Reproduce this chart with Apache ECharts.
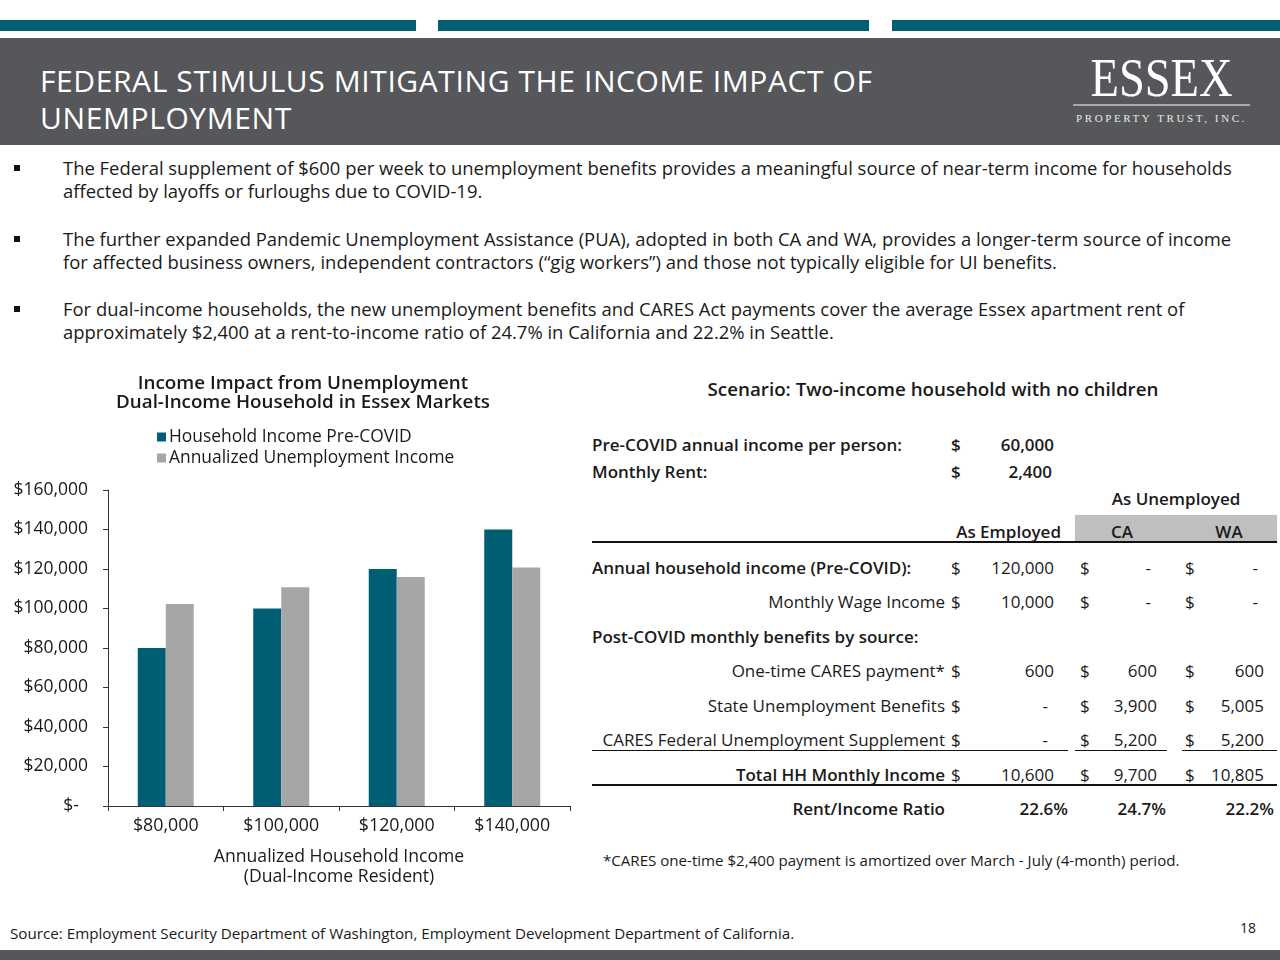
<!DOCTYPE html>
<html>
<head>
<meta charset="utf-8">
<script src="https://cdn.jsdelivr.net/npm/echarts@6/dist/echarts.min.js"></script>
<style>
  html, body { margin:0; padding:0; width:1280px; height:960px; background:#fff; overflow:hidden; }
  body { position:relative; font-family: "Open Sans", Lato, sans-serif; color:#1a1a1a; }
  .abs { position:absolute; white-space:nowrap; }
  .stripe { position:absolute; top:20px; height:11px; background:#005E73; }
  #header { position:absolute; left:0; top:38px; width:1280px; height:107px; background:#55575A; }
  .title { position:absolute; left:40px; color:#fff; font-size:30px; letter-spacing:0.6px; line-height:37px; top:24px; }
  .bullet { position:absolute; left:14px; width:6px; height:6px; background:#111; }
  .btext { position:absolute; left:63px; font-size:18.45px; line-height:23px; width:1190px; }
  .cell { position:absolute; font-size:17px; white-space:nowrap; line-height:20px; }
  .b { font-weight:600; }
</style>
</head>
<body>
<div class="stripe" style="left:0;width:416px"></div>
<div class="stripe" style="left:438px;width:431px"></div>
<div class="stripe" style="left:892px;width:388px"></div>
<div id="header">
  <div class="title">FEDERAL STIMULUS MITIGATING THE INCOME IMPACT OF<br>UNEMPLOYMENT</div>
  <div class="abs" style="left:1063px;top:13px;width:197px;text-align:center;color:#fff;font-family:'Liberation Serif',serif;font-size:54px;line-height:54px;">
    <span style="display:inline-block;transform:scaleX(0.86);">ESSEX</span></div>
  <div class="abs" style="left:1073px;top:66px;width:177px;height:2px;background:#a8a9ab;"></div>
  <div class="abs" style="left:1071px;top:74px;width:181px;text-align:center;color:#e8e8e8;font-family:'Liberation Serif',serif;font-size:11px;letter-spacing:2.6px;">PROPERTY TRUST, INC.</div>
</div>

<div id="bullets"></div>

<div id="chart" style="position:absolute;left:0;top:365px;width:580px;height:530px;"></div>

<div id="table"></div>

<div class="abs" style="left:10px;top:923px;font-size:15.2px;">Source: Employment Security Department of Washington, Employment Development Department of California.</div>
<div class="abs" style="left:1240px;top:918px;font-size:14px;">18</div>
<div class="abs" style="left:0;top:950px;width:1280px;height:10px;background:#55575A;"></div>

<script>
// ---------- data ----------
const bulletTexts = [
  "The Federal supplement of $600 per week to unemployment benefits provides a meaningful source of near-term income for households affected by layoffs or furloughs due to COVID-19.",
  "The further expanded Pandemic Unemployment Assistance (PUA), adopted in both CA and WA, provides a longer-term source of income for affected business owners, independent contractors (“gig workers”) and those not typically eligible for UI benefits.",
  "For dual-income households, the new unemployment benefits and CARES Act payments cover the average Essex apartment rent of approximately $2,400 at a rent-to-income ratio of 24.7% in California and 22.2% in Seattle."
];
const categories = ["$80,000", "$100,000", "$120,000", "$140,000"];
const preCovidIncome = [80000, 100000, 120000, 140000];
const unemploymentIncome = [102300, 110800, 115900, 120800];
const yTicks = [0, 20000, 40000, 60000, 80000, 100000, 120000, 140000, 160000];

const perPersonIncome = 60000;
const monthlyRent = 2400;
const scenarioCols = ["As Employed", "CA", "WA"];
const annualHouseholdIncome = [120000, null, null];
const monthlyWageIncome = [10000, null, null];
const caresPayment = [600, 600, 600];
const stateBenefits = [null, 3900, 5005];
const federalSupplement = [null, 5200, 5200];
const totalMonthlyIncome = [10600, 9700, 10805];
const rentIncomeRatio = [22.6, 24.7, 22.2];

// ---------- bullets ----------
const bulletTops = [156, 227, 297];
const bEl = document.getElementById('bullets');
bulletTexts.forEach((t, i) => {
  const s = document.createElement('div'); s.className = 'bullet';
  s.style.top = (bulletTops[i] + 9) + 'px'; bEl.appendChild(s);
  const d = document.createElement('div'); d.className = 'btext'; d.textContent = t;
  d.style.top = bulletTops[i] + 'px'; bEl.appendChild(d);
});

// ---------- table ----------
const tEl = document.getElementById('table');
function put(text, x, yc, align, bold, size) {
  const d = document.createElement('div'); d.className = 'cell' + (bold ? ' b' : '');
  d.textContent = text;
  if (size) d.style.fontSize = size + 'px';
  d.style.top = (yc - 10) + 'px';
  if (align === 'right') { d.style.right = (1280 - x) + 'px'; }
  else if (align === 'center') { d.style.left = (x - 300) + 'px'; d.style.width = '600px'; d.style.textAlign = 'center'; }
  else { d.style.left = x + 'px'; }
  tEl.appendChild(d); return d;
}
function rect(x, y, w, h, c) {
  const d = document.createElement('div'); d.className = 'abs';
  Object.assign(d.style, {left:x+'px', top:y+'px', width:w+'px', height:h+'px', background:c});
  tEl.appendChild(d);
}
const fmt = v => v.toLocaleString('en-US');
const colDollar = [951, 1080, 1185];
const colRight = [1054, 1157, 1264];
const colPct = [1068, 1166, 1274];
const labelRight = 945;

put("Scenario: Two-income household with no children", 933, 389, 'center', true, 18.8);
put("Pre-COVID annual income per person:", 592, 445, 'left', true);
put("$", colDollar[0], 445, 'left', true); put(fmt(perPersonIncome), colRight[0], 445, 'right', true);
put("Monthly Rent:", 592, 472, 'left', true);
put("$", colDollar[0], 472, 'left', true); put(fmt(monthlyRent), colRight[0] - 2, 472, 'right', true);
put("As Unemployed", 1176, 499, 'center', true);
rect(1075, 515, 202, 27, '#BFBFBF');
put(scenarioCols[0], 1061, 532, 'right', true);
put(scenarioCols[1], 1122, 532, 'center', true);
put(scenarioCols[2], 1229, 532, 'center', true);
rect(592, 541, 685, 2, '#111');

function valueRow(label, vals, yc, leftLabel, bold, boldVals) {
  if (leftLabel) put(label, 592, yc, 'left', bold); else put(label, labelRight, yc, 'right', bold);
  vals.forEach((v, i) => {
    put("$", colDollar[i], yc, 'left', boldVals);
    if (v === null) put("-", colRight[i] - 6, yc, 'right', boldVals);
    else put(fmt(v), colRight[i], yc, 'right', boldVals);
  });
}
valueRow("Annual household income (Pre-COVID):", annualHouseholdIncome, 568, true, true, false);
valueRow("Monthly Wage Income", monthlyWageIncome, 602, false, false, false);
put("Post-COVID monthly benefits by source:", 592, 637, 'left', true);
valueRow("One-time CARES payment*", caresPayment, 671, false, false, false);
valueRow("State Unemployment Benefits", stateBenefits, 706, false, false, false);
valueRow("CARES Federal Unemployment Supplement", federalSupplement, 740, false, false, false);
rect(592, 750, 476, 1, '#111'); rect(1075, 750, 92, 1, '#111'); rect(1182, 750, 95, 1, '#111');
valueRow("Total HH Monthly Income", totalMonthlyIncome, 775, false, true, false);
rect(592, 784, 685, 2, '#111');
put("Rent/Income Ratio", labelRight, 809, 'right', true);
rentIncomeRatio.forEach((v, i) => put(v.toFixed(1) + '%', colPct[i], 809, 'right', true));
put("*CARES one-time $2,400 payment is amortized over March - July (4-month) period.", 603, 860, 'left', false, 15.1);

// ---------- chart ----------
const chart = echarts.init(document.getElementById('chart'), null, {renderer:'canvas'});
const FONT = '"Open Sans", Lato, sans-serif';
chart.setOption({
  animation: false,
  textStyle: { fontFamily: FONT, color: '#1a1a1a' },
  title: {
    text: 'Income Impact from Unemployment\nDual-Income Household in Essex Markets',
    left: 298, top: 4, textAlign: 'center',
    textStyle: { fontSize: 18.8, fontWeight: 600, lineHeight: 19, color: '#1a1a1a', fontFamily: FONT }
  },
  legend: {
    orient: 'vertical', left: 152, top: 58, itemWidth: 9, itemHeight: 9, itemGap: 3,
    icon: 'rect',
    textStyle: { fontSize: 17.4, color: '#1a1a1a', fontFamily: FONT, lineHeight: 18, padding: [0, 0, 0, -2] },
    data: ['Household Income Pre-COVID', 'Annualized Unemployment Income']
  },
  grid: { left: 108, right: 10, top: 125, bottom: 89, containLabel: false },
  xAxis: {
    type: 'category', data: categories,
    name: 'Annualized Household Income\n(Dual-Income Resident)',
    nameLocation: 'middle', nameGap: 41,
    nameTextStyle: { fontSize: 17.6, lineHeight: 20, color: '#1a1a1a', fontFamily: FONT },
    axisLine: { lineStyle: { color: '#333', width: 1 } },
    axisTick: { show: true, length: 5, lineStyle: { color: '#333' } },
    axisLabel: { fontSize: 17.8, margin: 11, color: '#1a1a1a', fontFamily: FONT }
  },
  yAxis: {
    type: 'value', min: yTicks[0], max: yTicks[yTicks.length - 1], interval: yTicks[1] - yTicks[0],
    splitLine: { show: false },
    axisLine: { show: true, lineStyle: { color: '#333', width: 1 } },
    axisTick: { show: true, length: 5, lineStyle: { color: '#333' } },
    axisLabel: {
      fontSize: 17.5, margin: 20, color: '#1a1a1a', fontFamily: FONT,
      formatter: v => v === 0 ? '$-  ' : '$' + v.toLocaleString('en-US')
    }
  },
  series: [
    { name: 'Household Income Pre-COVID', type: 'bar', data: preCovidIncome, barWidth: 28, barGap: '0%',
      itemStyle: { color: '#005E73' } },
    { name: 'Annualized Unemployment Income', type: 'bar', data: unemploymentIncome, barWidth: 28,
      itemStyle: { color: '#A6A6A6' } }
  ]
});
</script>
</body>
</html>
